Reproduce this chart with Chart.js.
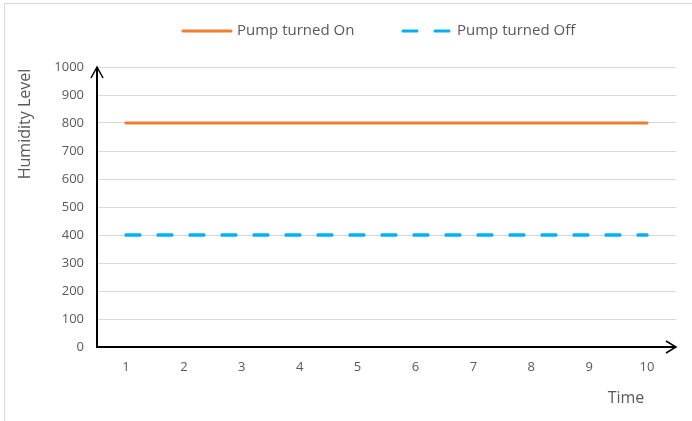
<!DOCTYPE html>
<html>
<head>
<meta charset="utf-8">
<script src="https://cdn.jsdelivr.net/npm/chart.js@4"></script>
<style>
  html, body { margin: 0; padding: 0; background: #fff; }
  #wrap { width: 692px; height: 421px; position: relative; }
</style>
</head>
<body>
<div id="wrap"><canvas id="myLineChart"></canvas></div>
<script>
// dados do gráfico
var tempos = ["1", "2", "3", "4", "5", "6", "7", "8", "9", "10"];
var bombaLigada = [800, 800, 800, 800, 800, 800, 800, 800, 800, 800];
var bombaDesligada = [400, 400, 400, 400, 400, 400, 400, 400, 400, 400];
var nomesSeries = ["Pump turned On", "Pump turned Off"];
var tituloY = "Humidity Level";
var tituloX = "Time";

var corTexto = "#595959";
var fonte = "'Open Sans', 'DejaVu Sans', sans-serif";

// legenda, títulos e eixos com setas
var extras = {
  id: "extras",
  afterDraw: function (chart) {
    var ctx = chart.ctx;
    var area = chart.chartArea;
    ctx.save();

    // borda
    ctx.strokeStyle = "#d9d9d9";
    ctx.lineWidth = 1;
    ctx.beginPath();
    ctx.moveTo(4.5, 421);
    ctx.lineTo(4.5, 3.5);
    ctx.lineTo(692, 3.5);
    ctx.stroke();

    // eixos
    ctx.strokeStyle = "#000";
    ctx.lineWidth = 2;
    ctx.beginPath();
    ctx.moveTo(area.left, area.bottom + 1);
    ctx.lineTo(area.left, area.top);
    ctx.moveTo(area.left - 1, area.bottom);
    ctx.lineTo(area.right, area.bottom);
    ctx.stroke();
    ctx.lineWidth = 1.5;
    ctx.beginPath();
    ctx.moveTo(area.left - 6, area.top + 11);
    ctx.lineTo(area.left, area.top);
    ctx.lineTo(area.left + 6, area.top + 11);
    ctx.moveTo(area.right - 10, area.bottom - 6);
    ctx.lineTo(area.right, area.bottom);
    ctx.lineTo(area.right - 10, area.bottom + 6);
    ctx.stroke();

    // legenda
    var itens = [
      { x: 182, ds: chart.data.datasets[0] },
      { x: 402, ds: chart.data.datasets[1] },
    ];
    ctx.font = "15px " + fonte;
    ctx.textBaseline = "middle";
    ctx.textAlign = "left";
    itens.forEach(function (it) {
      ctx.strokeStyle = it.ds.borderColor;
      ctx.lineWidth = 3;
      ctx.lineCap = "round";
      ctx.setLineDash(it.ds.borderDash || []);
      ctx.beginPath();
      ctx.moveTo(it.x + 1, 31);
      ctx.lineTo(it.x + 49, 31);
      ctx.stroke();
      ctx.setLineDash([]);
      ctx.fillStyle = corTexto;
      ctx.fillText(it.ds.label, it.x + 55, 31);
    });

    // títulos dos eixos
    ctx.font = "16px " + fonte;
    ctx.fillStyle = corTexto;
    ctx.textAlign = "center";
    ctx.fillText(tituloX, 626, 398);
    ctx.translate(25, 124);
    ctx.rotate(-Math.PI / 2);
    ctx.fillText(tituloY, 0, 0);
    ctx.restore();
  },
};

var dados = {
  labels: tempos,
  datasets: [
    {
      label: nomesSeries[0],
      data: bombaLigada,
      borderColor: "#ED7D31",
      backgroundColor: "#ED7D31",
      borderWidth: 3,
      borderCapStyle: "round",
      pointRadius: 0,
      fill: false,
    },
    {
      label: nomesSeries[1],
      data: bombaDesligada,
      borderColor: "#00B0F0",
      backgroundColor: "#00B0F0",
      borderWidth: 3.5,
      borderDash: [14, 18],
      borderCapStyle: "round",
      pointRadius: 0,
      fill: false,
    },
  ],
};

var config = {
  type: "line",
  data: dados,
  options: {
    responsive: true,
    maintainAspectRatio: false,
    animation: false,
    layout: { padding: { top: 67, right: 16, left: 0, bottom: 0 } },
    plugins: {
      legend: { display: false },
      tooltip: { enabled: false },
    },
    scales: {
      x: {
        offset: true,
        grid: { display: false, drawTicks: false },
        border: { display: false },
        ticks: {
          color: corTexto,
          padding: 12,
          font: { family: fonte, size: 13 },
        },
        afterFit: function (s) { s.height = 74; },
      },
      y: {
        min: 0,
        max: 1000,
        grid: { color: "#d9d9d9", drawTicks: false },
        border: { display: false },
        ticks: {
          stepSize: 100,
          color: corTexto,
          padding: 13,
          font: { family: fonte, size: 13 },
          callback: function (v) { return String(v); },
        },
        afterFit: function (s) { s.width = 97; },
      },
    },
  },
  plugins: [extras],
};

myLineChart = new Chart(document.getElementById("myLineChart"), config);
</script>
</body>
</html>
